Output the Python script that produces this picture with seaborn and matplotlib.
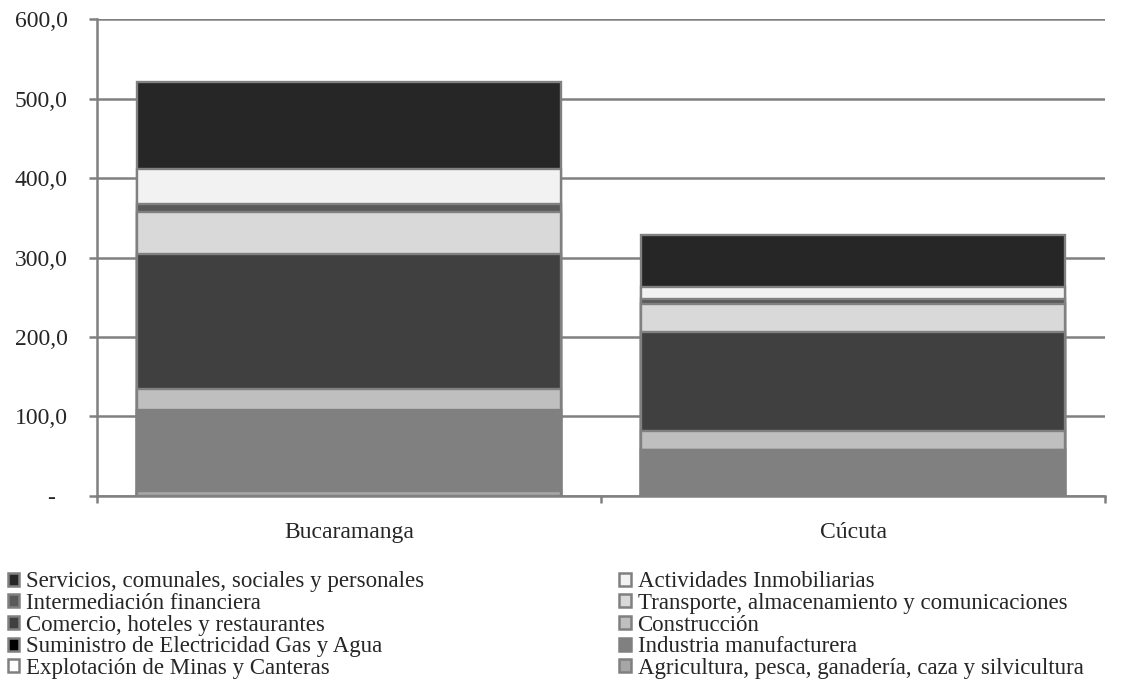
import seaborn as sns
import pandas as pd
import matplotlib.pyplot as plt
import numpy as np
from matplotlib.patches import Patch

ciudades = ['Bucaramanga', 'Cúcuta']

# series, from the bottom of the stack to the top
sectores = ['Agricultura, pesca, ganadería, caza y silvicultura',
            'Explotación de Minas y Canteras',
            'Industria manufacturera',
            'Suministro de Electricidad Gas y Agua',
            'Construcción',
            'Comercio, hoteles y restaurantes',
            'Transporte, almacenamiento y comunicaciones',
            'Intermediación financiera',
            'Actividades Inmobiliarias',
            'Servicios, comunales, sociales y personales']

bucaramanga = [6.0, 0.5, 100.5, 0.8, 26.5, 170.0, 53.5, 9.4, 44.4, 109.4]
cucuta = [0.5, 0.3, 57.0, 0.3, 24.0, 123.8, 35.6, 5.7, 15.7, 65.4]

colores = ['#a6a6a6', '#ffffff', '#808080', '#000000', '#bfbfbf',
           '#404040', '#d9d9d9', '#595959', '#f2f2f2', '#262626']

etiquetas_y = ['-  ', '100,0', '200,0', '300,0', '400,0', '500,0', '600,0']

gris = '#808080'

sns.set_style('white')
plt.rcParams['font.family'] = ['Liberation Serif', 'DejaVu Serif']

df = pd.DataFrame({'Bucaramanga': bucaramanga, 'Cúcuta': cucuta}, index=sectores)
acum = df.cumsum()

fig = plt.figure(figsize=(11.3, 6.97), dpi=100)
ax = fig.add_axes([0.0858, 0.2884, 0.8922, 0.6843])

# stacked bars: draw cumulative totals from the top series down
for i in range(len(sectores) - 1, -1, -1):
    d = pd.DataFrame({'ciudad': ciudades, 'valor': acum.iloc[i].values})
    sns.barplot(data=d, x='ciudad', y='valor', color=colores[i], saturation=1,
                width=0.84, edgecolor=gris, linewidth=1.7, ax=ax, zorder=2)

ax.set_ylim(0, 600)
ax.set_xlim(-0.5, 1.5)
ax.set_yticks(range(0, 601, 100))
ax.set_yticklabels(etiquetas_y, fontsize=17)
ax.set_xlabel('')
ax.set_ylabel('')

ax.yaxis.grid(True, color=gris, linewidth=1.8)
ax.set_axisbelow(True)

for s in ['top', 'right']:
    ax.spines[s].set_visible(False)
for s in ['left', 'bottom']:
    ax.spines[s].set_color(gris)
    ax.spines[s].set_linewidth(1.8)

ax.tick_params(axis='y', left=True, length=6, width=1.8, color=gris, pad=15)
ax.tick_params(axis='x', which='major', length=0, pad=19, labelsize=17)
ax.set_xticks([-0.5, 0.5, 1.5], minor=True)
ax.tick_params(axis='x', which='minor', bottom=True, length=5, width=1.8, color=gris)

# legend in two columns, same order as the original
orden = [9, 7, 5, 3, 1, 8, 6, 4, 2, 0]
handles = [Patch(facecolor=colores[k], edgecolor=gris, linewidth=1.8) for k in orden]
labels = [sectores[k] for k in orden]
fig.legend(handles, labels, ncol=2, loc='upper left', bbox_to_anchor=(0.003, 0.187),
           frameon=False, fontsize=16.5, handlelength=0.5, handleheight=0.5,
           handletextpad=0.3, labelspacing=0.03, columnspacing=8.5,
           borderpad=0.2, borderaxespad=0)

fig.savefig('out.png', dpi=100)
